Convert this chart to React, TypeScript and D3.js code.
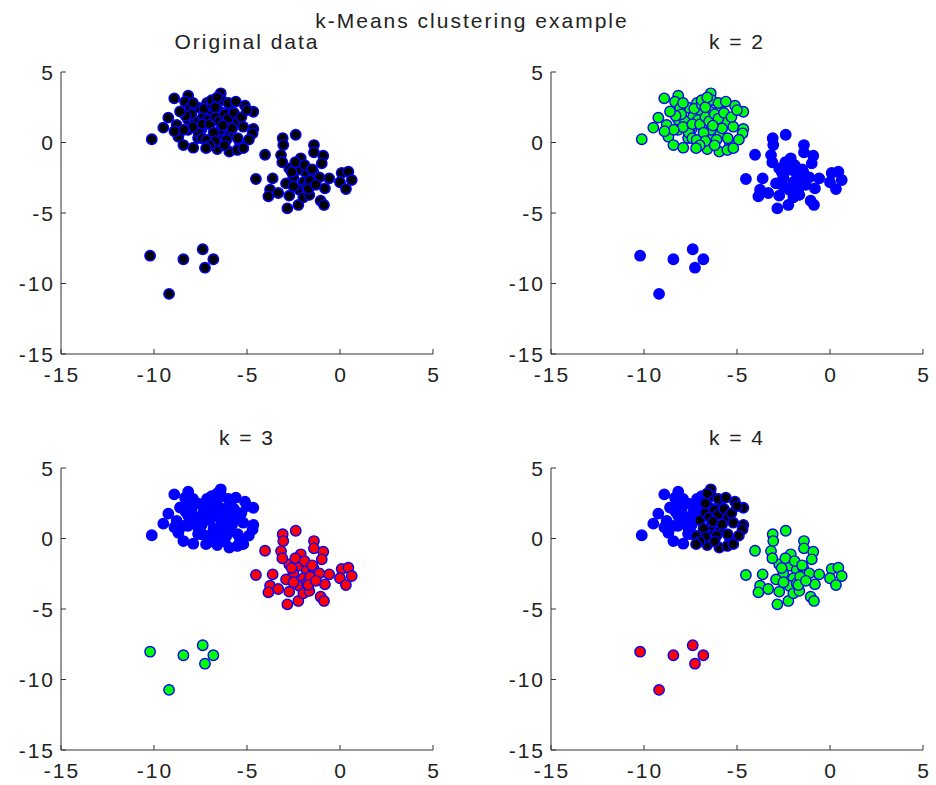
import * as d3 from "d3";

// cluster 1, left part (blue in k = 4)
const groupA: [number, number][] = [
  [-8.91, 3.13], [-8.16, 3.32], [-8.33, 2.89], [-7.62, 2.47], [-7.08, 2.14],
  [-9.23, 1.76], [-9.5, 1.05], [-8.78, 1.24], [-8.16, 1.6], [-7.44, 0.96],
  [-10.12, 0.23], [-8.69, 0.41], [-8.42, -0.18], [-7.89, -0.37], [-8.06, 2.43],
  [-8.17, 0.89], [-7.63, 0.32], [-7.53, 1.03], [-7.37, 1.81], [-7.15, 2.8],
  [-7.8, 1.5], [-7.3, 2.4], [-7.1, 1.6], [-7.6, 0.7], [-8.0, 2.0],
  [-7.9, 1.1], [-7.4, 1.3], [-8.3, 1.9], [-8.6, 2.2], [-7.9, 2.8],
  [-8.4, 0.9], [-8.9, 0.8], [-7.4, 0.3], [-6.9, 2.7], [-6.9, 3.0],
];

// cluster 1, right part (black in k = 4)
const groupB: [number, number][] = [
  [-6.41, 3.49], [-6.36, 3.01], [-6.49, 2.23], [-5.91, 2.47], [-5.11, 2.61],
  [-4.66, 2.18], [-6.99, 1.29], [-6.18, 1.29], [-5.59, 1.43], [-5.2, 1.12],
  [-4.66, 0.96], [-7.17, 0.18], [-6.36, 0.3], [-5.91, 0.65], [-5.38, -0.06],
  [-4.7, 0.65], [-6.6, -0.46], [-5.95, -0.65], [-5.52, -0.53], [-6.7, 1.8],
  [-6.5, 1.5], [-6.2, 2.0], [-6.0, 1.7], [-5.8, 1.0], [-6.4, 0.9],
  [-6.8, 0.7], [-5.7, 2.1], [-5.5, 0.3], [-6.1, 0.2], [-6.7, 0.1],
  [-7.0, -0.2], [-6.0, 2.8], [-5.6, 2.9], [-6.7, 2.5], [-6.3, 1.2],
  [-5.3, 1.8], [-5.0, 2.3], [-6.6, 3.2], [-7.2, -0.4], [-6.2, -0.2],
  [-4.9, 0.2], [-5.2, -0.4],
];

// cluster 2
const groupC: [number, number][] = [
  [-2.38, 0.55], [-3.08, 0.3], [-3.05, -0.18], [-4.03, -0.87], [-3.17, -0.89],
  [-2.11, -1.12], [-2.73, -1.83], [-2.15, -1.93], [-1.79, -2.23], [-2.51, -2.47],
  [-1.97, -2.82], [-4.52, -2.59], [-3.62, -2.54], [-3.76, -3.35], [-3.32, -3.58],
  [-2.73, -3.77], [-2.19, -3.35], [-3.85, -3.82], [-2.83, -4.67], [-2.24, -4.43],
  [-1.97, -3.89], [-1.79, -3.18], [-1.4, -0.18], [-1.4, -0.7], [-0.9, -0.94],
  [-0.98, -1.48], [-1.44, -2.07], [-1.11, -2.47], [-0.58, -2.54], [-1.61, -2.71],
  [0.09, -2.16], [0.45, -2.07], [0.63, -2.66], [0.0, -2.82], [0.32, -3.3],
  [-0.81, -3.25], [-1.65, -3.72], [-1.04, -4.13], [-0.86, -4.43], [-1.7, -3.3],
  [-2.4, -1.4], [-1.9, -1.6], [-2.6, -2.1], [-1.5, -1.9], [-2.9, -2.9],
  [-1.3, -3.0], [-2.5, -3.1], [-3.1, -1.4],
];

// small far group
const groupD: [number, number][] = [
  [-10.21, -8.03], [-8.42, -8.28], [-7.38, -7.57], [-6.81, -8.28],
  [-7.26, -8.88], [-9.19, -10.74],
];

const xTicks = [-15, -10, -5, 0, 5];
const yTicks = [5, 0, -5, -10, -15];
const tickLabels = ["-15", "-10", "-5", "0", "5"];
const yTickLabels = ["5", "0", "-5", "-10", "-15"];

const panels = [
  { title: "Original data", colors: ["#000000", "#000000", "#000000", "#000000"] },
  { title: "k = 2", colors: ["#00ff00", "#00ff00", "#0000ff", "#0000ff"] },
  { title: "k = 3", colors: ["#0000ff", "#0000ff", "#ff0000", "#00ff00"] },
  { title: "k = 4", colors: ["#0000ff", "#000000", "#00ff00", "#ff0000"] },
];

const groups = [groupA, groupB, groupC, groupD];

const font = "'Liberation Sans', Arial, sans-serif";
const textColor = "#222";

function Panel({ left, top, title, colors }: { left: number; top: number; title: string; colors: string[] }) {
  const w = 372;
  const h = 282;
  const x = d3.scaleLinear().domain([-15, 5]).range([left, left + w]);
  const y = d3.scaleLinear().domain([-15, 5]).range([top + h, top]);
  const bottom = top + h;
  return (
    <g>
      <text x={left + w / 2} y={top - 23} textAnchor="middle" fontSize={21} letterSpacing={2} fill={textColor}>
        {title}
      </text>
      {groups.map((g, gi) =>
        g.map((d, i) => (
          <circle
            key={gi + "-" + i}
            cx={x(d[0])}
            cy={y(d[1])}
            r={5.2}
            fill={colors[gi]}
            stroke="#0000ff"
            strokeWidth={1.4}
          />
        ))
      )}
      <line x1={left} x2={left + w} y1={bottom} y2={bottom} stroke="#333" />
      <line x1={left} x2={left} y1={top} y2={bottom} stroke="#333" />
      {xTicks.map((t, i) => (
        <g key={"x" + t}>
          <line x1={x(t)} x2={x(t)} y1={bottom} y2={bottom - 5} stroke="#333" />
          <text x={x(t) + 1} y={bottom + 28} textAnchor="middle" fontSize={21} letterSpacing={2} fill={textColor}>
            {tickLabels[i]}
          </text>
        </g>
      ))}
      {yTicks.map((t, i) => (
        <g key={"y" + t}>
          <line x1={left} x2={left + 5} y1={y(t)} y2={y(t)} stroke="#333" />
          <text x={left - 6} y={y(t)} dy="0.36em" textAnchor="end" fontSize={21} letterSpacing={2} fill={textColor}>
            {yTickLabels[i]}
          </text>
        </g>
      ))}
    </g>
  );
}

export default function App() {
  const lefts = [61, 551, 61, 551];
  const tops = [72, 72, 468, 468];
  return (
    <div style={{ position: "absolute", left: 0, top: 0 }}>
      <svg width={936} height={785} style={{ display: "block", fontFamily: font }}>
        <rect width={936} height={785} fill="#fff" />
        <text x={472} y={28} textAnchor="middle" fontSize={21} letterSpacing={2} fill={textColor}>
          k-Means clustering example
        </text>
        {panels.map((p, i) => (
          <Panel key={p.title} left={lefts[i]} top={tops[i]} title={p.title} colors={p.colors} />
        ))}
      </svg>
    </div>
  );
}
